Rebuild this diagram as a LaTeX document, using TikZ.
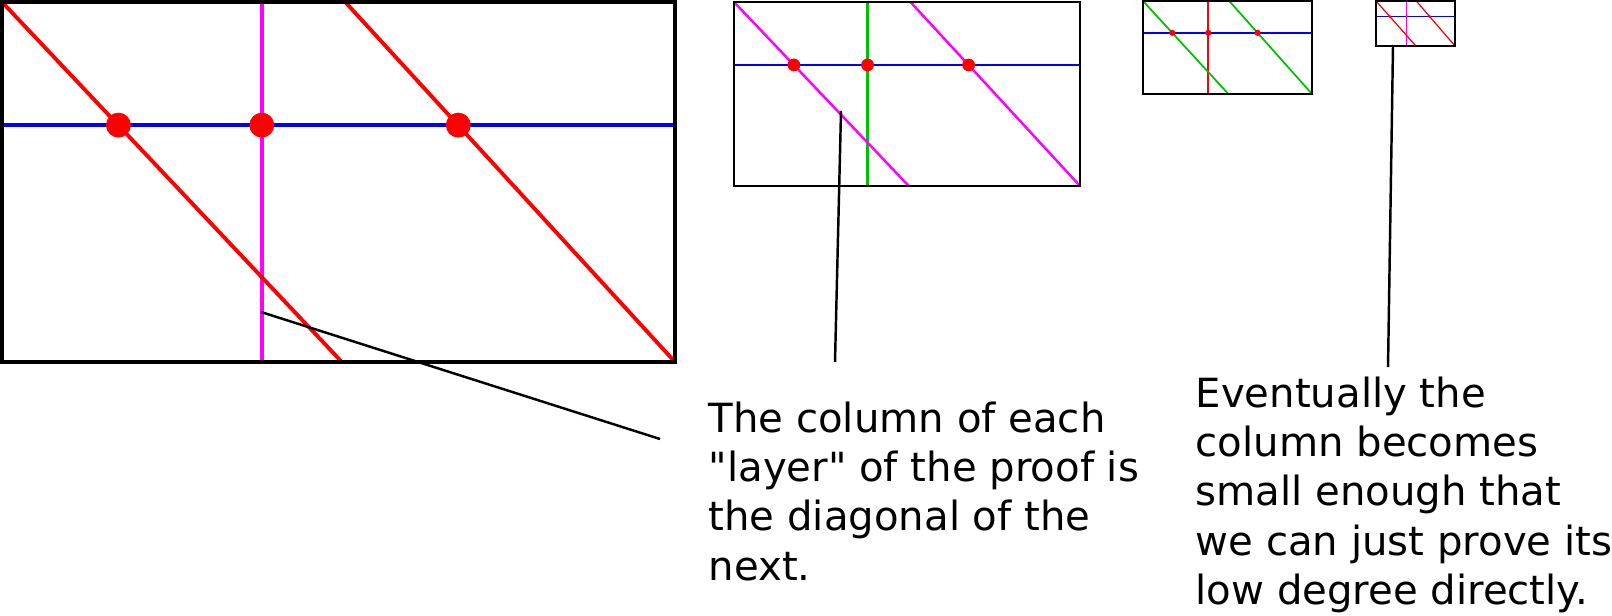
\documentclass[tikz,border=0pt]{standalone}
\usepackage{fontspec}
\setmainfont{DejaVu Sans}[Ligatures=TeXOff]
\definecolor{midgreen}{RGB}{0,192,0}
\definecolor{pmagenta}{RGB}{255,0,255}
\definecolor{pred}{RGB}{255,0,0}
\definecolor{pblue}{RGB}{0,0,255}
\tikzset{dot/.style={circle, fill=pred, inner sep=0pt, outer sep=0pt},
%text beside the panels
note/.style={anchor=north west, inner sep=0pt, align=left, font=\fontsize{0.402cm}{0.493cm}\selectfont},
pointer/.style={black, line width=0.7pt}}
\begin{document}
\begin{tikzpicture}
\useasboundingbox (0,0) rectangle (16.12,-6.15);
% one panel per layer, each smaller than the last
\foreach \ox/\oy/\w/\h/\bw/\lw/\dcol/\vcol [count=\p] in {0.02/-0.02/6.73/3.60/1.0/1.1/pred/pmagenta,
    7.34/-0.02/3.46/1.84/0.8/0.7/pmagenta/midgreen,
    11.43/-0.01/1.69/0.93/0.6/0.5/midgreen/pred,
    13.76/-0.01/0.79/0.45/0.45/0.35/pred/pmagenta}
{
  \begin{scope}[shift={(\ox,\oy)}, xscale=\w, yscale=\h]
    \draw[pblue, line width=\lw pt] (0,-0.342) -- (1,-0.342);
    \draw[\vcol, line width=\lw pt] (0.386,0) -- (0.386,-1);
    \draw[\dcol, line width=\lw pt] (0,0) -- (0.505,-1);
    \draw[\dcol, line width=\lw pt] (0.51,0) -- (1,-1);
    \draw[line width=\bw pt] (0,0) rectangle (1,-1);
    \foreach \d [count=\k] in {0.173,0.386,0.678}
      \node[dot, minimum size=\w*0.37mm] (d\p\k) at (\d,-0.342) {};
  \end{scope}
}

%labels
\node[note] (layernote) at (7.08,-4.01) {The column of each\\"layer" of the proof is\\the diagonal of the\\next.};
\node[note] (smallnote) at (11.95,-3.76) {Eventually the\\column becomes\\small enough that\\we can just prove its\\low degree directly.};

\coordinate (tipA) at (2.61,-3.12);
\coordinate (tipB) at (8.41,-1.11);
\coordinate (tipC) at (13.93,-0.45);
\coordinate (endA) at (6.60,-4.39);
\coordinate (endB) at (8.35,-3.62);
\coordinate (endC) at (13.88,-3.67);
\draw[pointer] (tipA) -- (endA);
\draw[pointer] (tipB) -- (endB);
\draw[pointer] (tipC) -- (endC);
\end{tikzpicture}
\end{document}
